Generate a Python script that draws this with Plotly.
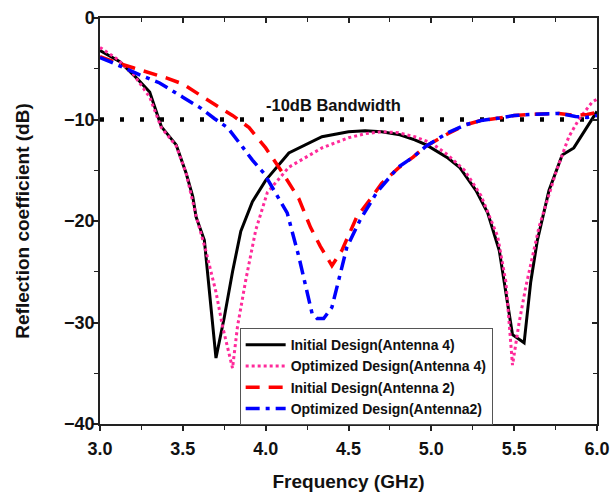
import plotly.graph_objects as go

# Initial Design (Antenna 4)
x_init4 = [3.0, 3.12, 3.22, 3.3, 3.37, 3.46, 3.52, 3.56, 3.58, 3.63, 3.7, 3.75, 3.8, 3.85, 3.92, 4.0,
           4.14, 4.34, 4.5, 4.6, 4.7, 4.81, 4.9, 4.97, 5.1, 5.17, 5.27, 5.34, 5.41, 5.45, 5.49, 5.56,
           5.6, 5.64, 5.71, 5.79, 5.86, 5.93, 6.0]
y_init4 = [-3.2, -4.3, -5.9, -7.3, -10.7, -12.5, -15.3, -17.6, -19.6, -21.9, -33.5, -29.5, -25.0, -21.0, -18.1, -16.0,
           -13.3, -11.7, -11.2, -11.1, -11.2, -11.5, -12.0, -12.5, -13.8, -14.7, -17.0, -19.2, -22.9, -27.0, -31.2, -32.0,
           -26.0, -21.9, -17.0, -13.5, -12.8, -11.0, -9.2]

# Optimized Design (Antenna 4)
x_opt4 = [3.0, 3.1, 3.2, 3.3, 3.37, 3.46, 3.52, 3.58, 3.64, 3.7, 3.74, 3.8, 3.83, 3.88, 3.94, 4.01,
          4.14, 4.34, 4.5, 4.6, 4.7, 4.8, 4.9, 5.0, 5.1, 5.2, 5.3, 5.4, 5.45, 5.49, 5.53, 5.57,
          5.65, 5.75, 5.83, 5.89, 5.97, 6.0]
y_opt4 = [-2.9, -4.0, -5.5, -7.8, -10.8, -12.6, -15.3, -19.5, -23.0, -27.0, -30.4, -34.5, -30.4, -25.8, -20.9, -17.2,
          -14.7, -12.8, -11.8, -11.4, -11.2, -11.3, -11.7, -12.3, -13.5, -15.0, -17.5, -21.5, -26.0, -34.2, -30.0, -26.5,
          -20.6, -15.3, -11.7, -10.0, -8.3, -8.0]

# Initial Design (Antenna 2)
x_init2 = [3.0, 3.1, 3.2, 3.3, 3.4, 3.5, 3.6, 3.7, 3.8, 3.9, 4.0, 4.1, 4.2, 4.27, 4.33, 4.4,
           4.46, 4.55, 4.63, 4.7, 4.8, 4.89, 4.97, 5.1, 5.21, 5.3, 5.41, 5.5, 5.61, 5.77, 5.87, 5.94, 6.0]
y_init2 = [-3.8, -4.4, -4.9, -5.4, -5.9, -6.5, -7.6, -8.6, -9.6, -10.8, -12.8, -15.2, -17.8, -20.6, -22.5, -24.4,
           -22.9, -19.6, -17.9, -16.3, -14.8, -13.7, -12.6, -11.4, -10.5, -10.1, -9.85, -9.6, -9.5, -9.4, -9.6, -9.5, -9.3]

# Optimized Design (Antenna2)
x_opt2 = [3.0, 3.06, 3.24, 3.36, 3.5, 3.61, 3.69, 3.77, 3.86, 3.92, 3.99, 4.08, 4.13, 4.2, 4.28, 4.31,
          4.35, 4.4, 4.49, 4.57, 4.67, 4.8, 4.89, 4.97, 5.1, 5.21, 5.3, 5.41, 5.5, 5.61, 5.77, 5.87, 5.94, 6.0]
y_opt2 = [-3.9, -4.3, -5.6, -6.4, -7.8, -8.9, -9.9, -10.8, -12.7, -14.0, -15.3, -17.9, -19.2, -23.5, -29.1, -29.6,
          -29.6, -28.5, -22.6, -19.9, -17.2, -14.7, -13.7, -12.6, -11.3, -10.5, -10.1, -9.85, -9.6, -9.5, -9.4, -9.7, -9.8, -9.6]

ref_x = [3.0, 6.0]
ref_y = [-10, -10]

FONT = "Liberation Sans, Arial, sans-serif"

fig = go.Figure()
fig.add_trace(go.Scatter(x=ref_x, y=ref_y, mode="lines", showlegend=False,
                         line=dict(color="black", width=4.5, dash="4px,16px")))
fig.add_trace(go.Scatter(x=x_init4, y=y_init4, mode="lines", name="Initial Design(Antenna 4)",
                         line=dict(color="black", width=3)))
fig.add_trace(go.Scatter(x=x_opt4, y=y_opt4, mode="lines", name="Optimized Design(Antenna 4)",
                         line=dict(color="#FF2A9A", width=3, dash="dot")))
fig.add_trace(go.Scatter(x=x_init2, y=y_init2, mode="lines", name="Initial Design(Antenna 2)",
                         line=dict(color="#FF0000", width=3.5, dash="14px,9px")))
fig.add_trace(go.Scatter(x=x_opt2, y=y_opt2, mode="lines", name="Optimized Design(Antenna2)",
                         line=dict(color="#0000FF", width=3.5, dash="14px,6px,4px,6px")))
# invisible trace for mirrored axes
fig.add_trace(go.Scatter(x=ref_x, y=[-40, 0], xaxis="x2", yaxis="y2", mode="lines",
                         line=dict(width=0), showlegend=False, hoverinfo="skip", opacity=0))

axis_common = dict(showgrid=False, zeroline=False, showline=True, linecolor="#222", linewidth=1.5,
                   tickcolor="#222", tickwidth=1.5, automargin=False)

fig.update_layout(
    width=611, height=494,
    margin=dict(l=100, r=14, t=18, b=70, autoexpand=False),
    plot_bgcolor="white", paper_bgcolor="white",
    font=dict(family=FONT, color="#111"),
    xaxis=dict(range=[3, 6], dtick=0.5, tick0=3, tickformat=".1f", ticks="outside", ticklen=5,
               ticklabelstandoff=3,
               minor=dict(dtick=0.25, ticks="outside", ticklen=4, tickcolor="#222", tickwidth=1.2),
               tickfont=dict(size=18, weight="bold", family=FONT),
               title=dict(text="Frequency (GHz)", font=dict(size=19, weight="bold", family=FONT), standoff=16),
               **axis_common),
    yaxis=dict(range=[-40, 0], dtick=10, ticks="outside", ticklen=5, ticklabelstandoff=-5,
               minor=dict(dtick=5, ticks="outside", ticklen=4, tickcolor="#222", tickwidth=1.2),
               tickfont=dict(size=18, weight="bold", family=FONT),
               title=dict(text="Reflection coefficient (dB)", font=dict(size=19, weight="bold", family=FONT), standoff=29),
               **axis_common),
    xaxis2=dict(range=[3, 6], overlaying="x", side="top", dtick=0.5, tick0=3, ticks="inside", ticklen=5,
                minor=dict(dtick=0.25, ticks="inside", ticklen=4, tickcolor="#222", tickwidth=1.2),
                showticklabels=False, **axis_common),
    yaxis2=dict(range=[-40, 0], overlaying="y", side="right", dtick=10, ticks="inside", ticklen=5,
                minor=dict(dtick=5, ticks="inside", ticklen=4, tickcolor="#222", tickwidth=1.2),
                showticklabels=False, **axis_common),
    legend=dict(x=0.281, y=0.236, xanchor="left", yanchor="top", bgcolor="white",
                bordercolor="#555", borderwidth=1, tracegroupgap=0, entrywidth=255,
                font=dict(size=14, weight="bold", family=FONT), itemwidth=40),
    annotations=[dict(x=4.41, y=-8.55, xref="x", yref="y", text="-10dB Bandwidth", showarrow=False,
                      font=dict(size=16.5, weight="bold", family=FONT))],
)

fig.write_html("out.html", config={"displayModeBar": False},
               post_script="document.body.style.margin='0';document.body.style.padding='0';")
